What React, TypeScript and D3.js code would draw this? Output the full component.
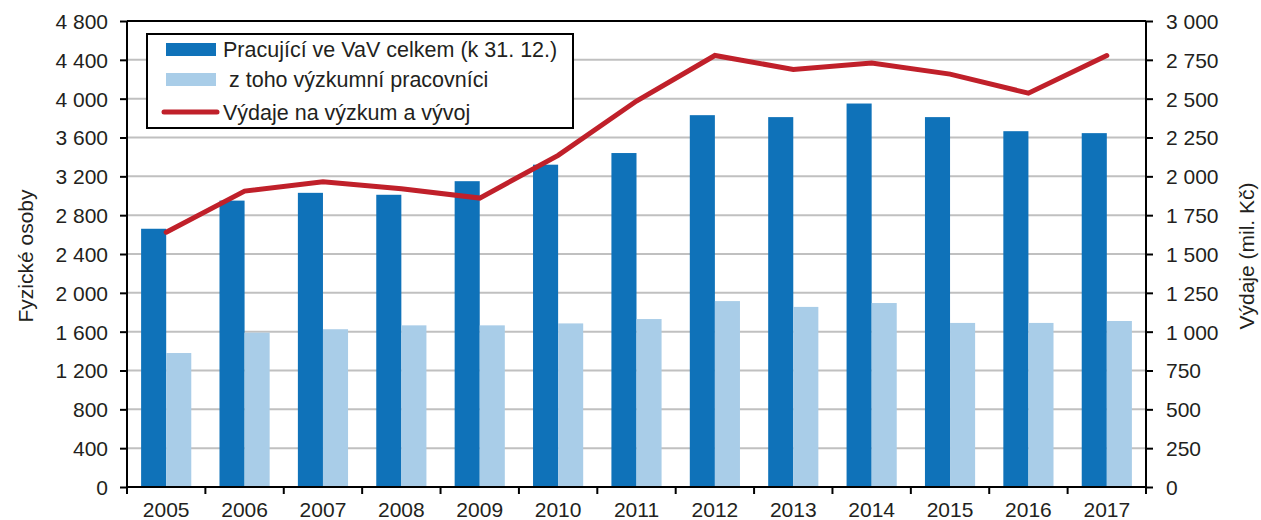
import React, { useEffect, useRef } from 'react';
import * as d3 from 'd3';

const years = ['2005', '2006', '2007', '2008', '2009', '2010', '2011', '2012', '2013', '2014', '2015', '2016', '2017'];
const pracujici = [2660, 2950, 3030, 3010, 3150, 3320, 3440, 3830, 3810, 3950, 3810, 3665, 3645];
const vyzkumnici = [1380, 1590, 1625, 1665, 1665, 1685, 1730, 1915, 1855, 1895, 1690, 1690, 1710];
const vydaje = [1640, 1905, 1965, 1920, 1860, 2135, 2485, 2778, 2688, 2730, 2658, 2535, 2778];
const leftTicks = [0, 400, 800, 1200, 1600, 2000, 2400, 2800, 3200, 3600, 4000, 4400, 4800];
const rightTicks = [0, 250, 500, 750, 1000, 1250, 1500, 1750, 2000, 2250, 2500, 2750, 3000];
const legendLabels = ['Pracující ve VaV celkem (k 31. 12.)', ' z toho výzkumní pracovníci', 'Výdaje na výzkum a vývoj'];

const DARK = '#0f72b9';
const LIGHT = '#a9cde8';
const RED = '#c0202a';
const TEXT = '#231f20';
const FONT = '"Liberation Sans", Arial, sans-serif';

const W = 1261;
const H = 520;

const App = () => {
    const svgRef = useRef(null);

    useEffect(() => {
        const svg = d3.select(svgRef.current);
        svg.selectAll('*').remove();

        const margin = { top: 21, right: 115, bottom: 33, left: 127 };
        const innerWidth = W - margin.left - margin.right;
        const innerHeight = H - margin.top - margin.bottom;

        const locale = d3.formatLocale({ decimal: ',', thousands: '\u00a0', grouping: [3], currency: ['', ''] });
        const fmt = locale.format(',d');

        const x = d3.scaleBand()
            .domain(years)
            .range([0, innerWidth])
            .paddingInner(0.36)
            .paddingOuter(0.18);

        const xSub = d3.scaleBand()
            .domain(['a', 'b'])
            .range([0, x.bandwidth()]);

        const yLeft = d3.scaleLinear().domain([0, 4800]).range([innerHeight, 0]);
        const yRight = d3.scaleLinear().domain([0, 3000]).range([innerHeight, 0]);

        const g = svg.append('g').attr('transform', `translate(${margin.left},${margin.top})`);

        // Gridlines
        g.append('g')
            .selectAll('line')
            .data(leftTicks.filter(t => t > 0 && t < 4800))
            .enter()
            .append('line')
            .attr('x1', 0)
            .attr('x2', innerWidth)
            .attr('y1', d => yLeft(d))
            .attr('y2', d => yLeft(d))
            .attr('stroke', '#c0c0c0')
            .attr('stroke-width', 2);

        // Bars
        const groups = g.append('g')
            .selectAll('g')
            .data(years.map((y, i) => ({ year: y, a: pracujici[i], b: vyzkumnici[i] })))
            .enter()
            .append('g')
            .attr('transform', d => `translate(${x(d.year)},0)`);

        groups.append('rect')
            .attr('x', xSub('a'))
            .attr('y', d => yLeft(d.a))
            .attr('width', xSub.bandwidth())
            .attr('height', d => innerHeight - yLeft(d.a))
            .attr('fill', DARK);

        groups.append('rect')
            .attr('x', xSub('b'))
            .attr('y', d => yLeft(d.b))
            .attr('width', xSub.bandwidth())
            .attr('height', d => innerHeight - yLeft(d.b))
            .attr('fill', LIGHT);

        // Line
        const line = d3.line()
            .x((d, i) => x(years[i]) + x.bandwidth() / 2)
            .y(d => yRight(d));

        g.append('path')
            .datum(vydaje)
            .attr('fill', 'none')
            .attr('stroke', RED)
            .attr('stroke-width', 5)
            .attr('stroke-linecap', 'round')
            .attr('stroke-linejoin', 'miter')
            .attr('d', line);

        // Frame top
        g.append('line')
            .attr('x1', 0).attr('x2', innerWidth)
            .attr('y1', 0).attr('y2', 0)
            .attr('stroke', '#000').attr('stroke-width', 2);

        // Axes
        const styleAxis = (sel) => {
            sel.select('.domain').remove();
            sel.selectAll('line').attr('stroke', '#000').attr('stroke-width', 2);
            sel.selectAll('text')
                .attr('font-size', '21px')
                .attr('font-family', FONT)
                .attr('fill', TEXT);
        };

        const leftAx = g.append('g')
            .call(d3.axisLeft(yLeft).tickValues(leftTicks).tickFormat(fmt).tickSize(7).tickPadding(12));
        styleAxis(leftAx);
        leftAx.selectAll('text').attr('dy', '0.35em');

        const rightAx = g.append('g')
            .attr('transform', `translate(${innerWidth},0)`)
            .call(d3.axisRight(yRight).tickValues(rightTicks).tickFormat(fmt).tickSize(7).tickPadding(13));
        styleAxis(rightAx);
        rightAx.selectAll('text').attr('dy', '0.35em');

        const bottomAx = g.append('g')
            .attr('transform', `translate(0,${innerHeight})`)
            .call(d3.axisBottom(x).tickSize(0).tickPadding(15));
        styleAxis(bottomAx);

        // x tick marks at band boundaries
        g.append('g')
            .selectAll('line')
            .data(years.concat(['end']))
            .enter()
            .append('line')
            .attr('x1', (d, i) => i * x.step())
            .attr('x2', (d, i) => i * x.step())
            .attr('y1', innerHeight)
            .attr('y2', innerHeight + 7)
            .attr('stroke', '#000')
            .attr('stroke-width', 2);

        // Axis lines
        g.append('line').attr('x1', 0).attr('x2', 0).attr('y1', 0).attr('y2', innerHeight + 1)
            .attr('stroke', '#000').attr('stroke-width', 2);
        g.append('line').attr('x1', innerWidth).attr('x2', innerWidth).attr('y1', 0).attr('y2', innerHeight + 1)
            .attr('stroke', '#000').attr('stroke-width', 2);
        g.append('line').attr('x1', 0).attr('x2', innerWidth).attr('y1', innerHeight).attr('y2', innerHeight)
            .attr('stroke', '#000').attr('stroke-width', 2);

        // Axis titles
        svg.append('text')
            .attr('transform', `translate(26,${margin.top + innerHeight / 2 + 2}) rotate(-90)`)
            .attr('text-anchor', 'middle')
            .attr('dy', '0.35em')
            .attr('font-size', '21px')
            .attr('font-family', FONT)
            .attr('fill', TEXT)
            .text('Fyzické osoby');

        svg.append('text')
            .attr('transform', `translate(1247,${margin.top + innerHeight / 2 + 2}) rotate(-90)`)
            .attr('text-anchor', 'middle')
            .attr('dy', '0.35em')
            .attr('font-size', '21px')
            .attr('font-family', FONT)
            .attr('fill', TEXT)
            .text('Výdaje (mil. Kč)');

        // Legend
        const legend = svg.append('g').attr('transform', 'translate(147,34)');
        legend.append('rect')
            .attr('x', 0).attr('y', 0)
            .attr('width', 426).attr('height', 94)
            .attr('fill', '#fff')
            .attr('stroke', '#000')
            .attr('stroke-width', 2);

        const rowY = [15, 45, 78];
        legend.append('rect').attr('x', 19).attr('y', rowY[0] - 6).attr('width', 50).attr('height', 13).attr('fill', DARK);
        legend.append('rect').attr('x', 19).attr('y', rowY[1] - 6).attr('width', 50).attr('height', 13).attr('fill', LIGHT);
        legend.append('line')
            .attr('x1', 17).attr('x2', 70)
            .attr('y1', rowY[2]).attr('y2', rowY[2])
            .attr('stroke', RED).attr('stroke-width', 5).attr('stroke-linecap', 'round');

        legend.selectAll('.legtext')
            .data(legendLabels)
            .enter()
            .append('text')
            .attr('class', 'legtext')
            .attr('x', 76)
            .attr('y', (d, i) => rowY[i])
            .attr('dy', '0.35em')
            .attr('font-size', '21.5px')
            .attr('font-family', FONT)
            .attr('fill', TEXT)
            .attr('xml:space', 'preserve')
            .style('white-space', 'pre')
            .text(d => d);

    }, []);

    return (
        <svg ref={svgRef} width={W} height={H} style={{ display: 'block', position: 'absolute', left: 0, top: 0 }} />
    );
};

export default App;
